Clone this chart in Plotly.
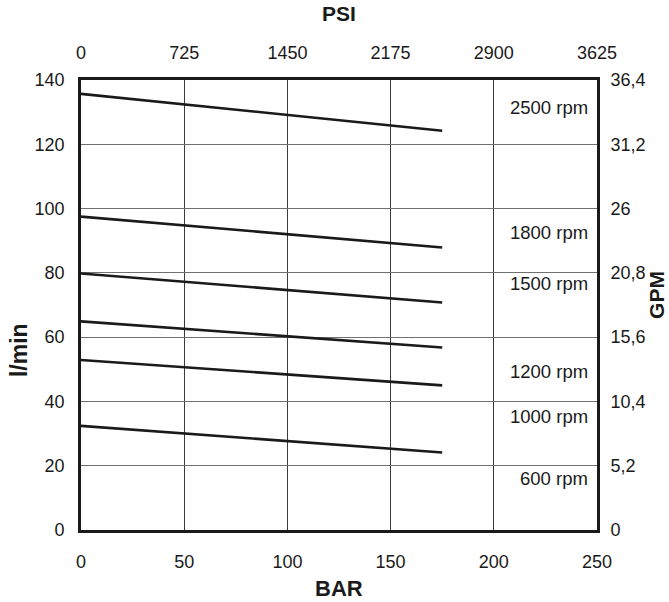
import plotly.graph_objects as go

# Data
rpm_labels = ["2500 rpm", "1800 rpm", "1500 rpm", "1200 rpm", "1000 rpm", "600 rpm"]
bar_start = [0, 0, 0, 0, 0, 0]
bar_end = [175, 175, 175, 175, 175, 175]
flow_start = [135.7, 97.5, 79.8, 64.9, 52.9, 32.4]
flow_end = [124.2, 87.9, 70.8, 56.8, 45.0, 24.1]
label_flow = [131.4, 92.5, 76.6, 49.2, 35.3, 15.9]
label_bar = 246.4

bar_ticks = [0, 50, 100, 150, 200, 250]
psi_ticks = ["0", "725", "1450", "2175", "2900", "3625"]
lmin_ticks = [0, 20, 40, 60, 80, 100, 120, 140]
gpm_ticks = ["0", "5,2", "10,4", "15,6", "20,8", "26", "31,2", "36,4"]

FONT = "Liberation Sans, Arial, sans-serif"
INK = "#1a1a1a"

fig = go.Figure()
for name, x0, x1, y0, y1 in zip(rpm_labels, bar_start, bar_end, flow_start, flow_end):
    fig.add_trace(go.Scatter(x=[x0, x1], y=[y0, y1], mode="lines", name=name,
                             line=dict(color=INK, width=2.6), showlegend=False,
                             hoverinfo="skip"))

# invisible traces to activate secondary axes
fig.add_trace(go.Scatter(x=[bar_ticks[0], bar_ticks[-1]], y=[0, 0], xaxis="x2", yaxis="y",
                         mode="markers", marker=dict(opacity=0), showlegend=False, hoverinfo="skip"))
fig.add_trace(go.Scatter(x=[0, 0], y=[lmin_ticks[0], lmin_ticks[-1]], xaxis="x", yaxis="y2",
                         mode="markers", marker=dict(opacity=0), showlegend=False, hoverinfo="skip"))

for lab, yv in zip(rpm_labels, label_flow):
    fig.add_annotation(x=label_bar, y=yv, text=lab, showarrow=False, xanchor="right",
                       yanchor="middle", font=dict(family=FONT, size=18.5, color=INK))

# axis titles
title_font = dict(family=FONT, size=21, color=INK)
fig.add_annotation(xref="paper", yref="paper", x=0.5, y=-0.131, text="<b>BAR</b>",
                   showarrow=False, xanchor="center", yanchor="middle",
                   font=dict(family=FONT, size=22, color=INK))
fig.add_annotation(xref="paper", yref="paper", x=0.5, y=1.147, text="<b>PSI</b>",
                   showarrow=False, xanchor="center", yanchor="middle", font=title_font)
fig.add_annotation(xref="paper", yref="paper", x=-0.12, y=0.40, text="<b>l/min</b>",
                   showarrow=False, xanchor="center", yanchor="middle", textangle=-90,
                   font=dict(family=FONT, size=23, color=INK))
fig.add_annotation(xref="paper", yref="paper", x=1.114, y=0.522, text="<b>GPM</b>",
                   showarrow=False, xanchor="center", yanchor="middle", textangle=-90,
                   font=title_font)

axis_common = dict(showline=True, linecolor=INK, linewidth=2.6, mirror=False,
                   ticks="", zeroline=False,
                   tickfont=dict(family=FONT, size=18, color=INK))

fig.update_layout(
    width=669, height=602,
    margin=dict(l=81, r=72, t=80, b=72),
    paper_bgcolor="white", plot_bgcolor="white",
    font=dict(family=FONT, color=INK),
    xaxis=dict(range=[0, 250], tickvals=bar_ticks, ticktext=[str(v) for v in bar_ticks],
               showgrid=True, gridcolor="#3a3a3a", gridwidth=1,
               ticklabelstandoff=14, **axis_common),
    xaxis2=dict(range=[0, 250], overlaying="x", side="top", tickvals=bar_ticks, ticktext=psi_ticks,
                showgrid=False, ticklabelstandoff=11, **axis_common),
    yaxis=dict(range=[0, 140], tickvals=lmin_ticks, ticktext=[str(v) for v in lmin_ticks],
               showgrid=True, gridcolor="#707070", gridwidth=1,
               ticklabelstandoff=10, **axis_common),
    yaxis2=dict(range=[0, 140], overlaying="y", side="right", tickvals=lmin_ticks, ticktext=gpm_ticks,
                showgrid=False, ticklabelstandoff=7, **axis_common),
)

fig.write_html("out.html", config={"displayModeBar": False},
               post_script="document.body.style.margin='0';")
